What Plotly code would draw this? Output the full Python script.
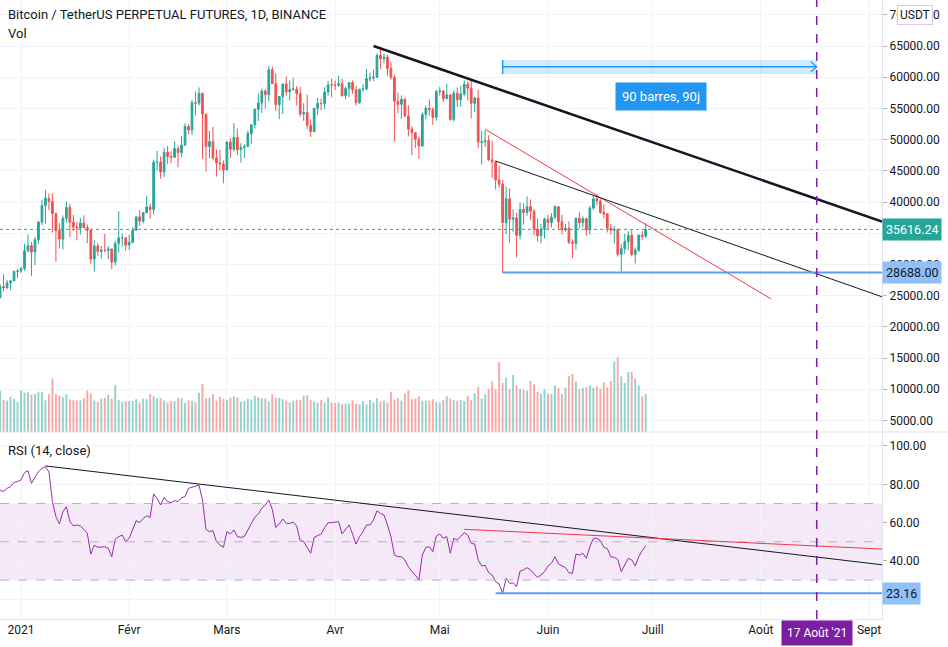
import pandas as pd
import plotly.graph_objects as go

# ── daily candles, BTCUSDT perp, 26 Dec 2020 .. 29 Jun 2021 ──
FIRST_DAY = "2020-12-26"

opens = [
    24664, 26437, 26238, 27037, 27360, 28875,
    28923, 29331, 32176, 33000, 31989, 33950, 36769, 39432, 40586, 40088, 38150, 35410, 34050, 37371, 39145, 36737,
    35995, 35825, 36623, 35901, 35468, 30851, 32950, 32078, 32259, 32254, 32464, 30363, 33368, 34246, 34262,
    33092, 33518, 35472, 37620, 36936, 38289, 39181, 38795, 46374, 46420, 44807, 47968, 47298, 47156, 48580, 47911,
    49134, 52118, 51552, 55906, 55841, 57413, 54064, 48892, 49677, 47063, 46278, 46103,
    45134, 49595, 48436, 50349, 48374, 48746, 48882, 50959, 52375, 54874, 55851, 57773, 57222, 61188, 58976, 55605,
    56900, 58912, 57641, 58030, 58100, 57351, 54083, 54342, 52303, 51293, 55025, 55817, 55777, 57635, 58746,
    58740, 58721, 58951, 57059, 58202, 59129, 57990, 55953, 58077, 58142, 59770, 59860, 59992, 63505, 62963, 63216,
    61380, 60001, 56150, 55663, 56425, 53787, 51695, 51110, 50047, 49005, 54021, 55033, 54825, 53555,
    57697, 57797, 56578, 57169, 53205, 57436, 56394, 57315, 58866, 58240, 55816, 56670, 49537, 49671, 49845, 46762,
    46427, 43538, 42850, 36671, 40526, 37263, 37458, 34655, 38796, 38325, 39241, 38529, 35661, 34605, 35641,
    37254, 36694, 37568, 39246, 36829, 35517, 35796, 33556, 33380, 37388, 36677, 37331, 35546, 39020, 40516, 40143,
    38349, 38100, 35820, 35484, 35600, 31614, 32510, 33676, 34663, 31576, 32283, 34702, 34494,
]
highs = [
    26867, 28422, 27500, 27410, 28996, 29300,
    29600, 33300, 34778, 33600, 34360, 36939, 40365, 41950, 41380, 41350, 38264, 36628, 37850, 40100, 39747, 37950,
    36852, 37469, 37850, 36415, 35600, 33826, 33456, 32945, 34875, 32921, 32557, 33783, 38531, 34933, 34342,
    34717, 35984, 37662, 38708, 38310, 40955, 39700, 46794, 48200, 47310, 48678, 48985, 48150, 49707, 49010, 50620,
    52618, 52530, 56368, 57700, 58352, 57533, 54183, 51374, 52041, 48390, 48394, 46638,
    49790, 50200, 52640, 51773, 49448, 49200, 51450, 52402, 54895, 57387, 58150, 58081, 61844, 61719, 60633, 56938,
    58982, 60100, 59468, 59880, 58589, 58430, 55830, 57200, 53238, 55073, 56700, 56559, 58400, 59368, 59800,
    59490, 60200, 59791, 58494, 59249, 59470, 58650, 58153, 58894, 61300, 60700, 61200, 63800, 64854, 63821, 63594,
    62506, 60415, 57526, 57076, 56757, 55521, 52131, 51166, 50500, 54357, 55460, 56428, 55196, 57963,
    58458, 57911, 58981, 57200, 57963, 58360, 58650, 59500, 59300, 59592, 56862, 58000, 51367, 51483, 50700, 49800,
    46643, 45800, 43546, 42451, 42200, 38856, 38270, 39920, 39791, 40900, 40411, 38877, 37338, 36488, 37499,
    37894, 38225, 39476, 39289, 37925, 36480, 36900, 34068, 37534, 38400, 37680, 37463, 39380, 41064, 41330, 40527,
    39559, 38200, 36457, 36137, 35750, 33298, 34881, 35298, 35500, 32730, 34749, 35298, 36600,
]
lows = [
    24500, 25700, 26101, 25880, 27320, 27850,
    28624, 28946, 31963, 28130, 29900, 33288, 36300, 36500, 38720, 35111, 30420, 32531, 32380, 36701, 34408, 35357,
    33850, 34800, 35844, 33400, 30071, 28850, 31390, 30900, 31900, 30837, 29241, 29842, 31915, 32825, 32171,
    32297, 33419, 35362, 36161, 36570, 38215, 37351, 37988, 45020, 43727, 43994, 46125, 46202, 47014, 45570, 47226,
    48947, 50901, 50710, 53863, 55477, 46930, 44892, 47003, 46674, 44108, 45000, 43000,
    45115, 47047, 48100, 47500, 46300, 47070, 48882, 49274, 51789, 53005, 54269, 54962, 56078, 59018, 54600, 53271,
    54123, 57023, 56270, 57820, 55450, 53650, 53000, 51700, 50427, 51226, 53950, 54691, 54900, 57006, 56769,
    57935, 58434, 56873, 56478, 56826, 57333, 55473, 55700, 57654, 57876, 59266, 59369, 59869, 61301, 62208, 60222,
    59580, 49700, 54221, 53329, 53608, 50500, 47500, 48657, 46930, 48800, 53222, 53813, 52330, 53013,
    57052, 56035, 56435, 53046, 52900, 55200, 55241, 56900, 56235, 53400, 54370, 48600, 46000, 48800, 46555, 43825,
    42001, 42250, 28688, 34850, 33488, 35200, 31111, 34031, 36419, 37800, 37134, 34684, 33632, 33379, 34153,
    35666, 35920, 37170, 35555, 34800, 35258, 33300, 31000, 32397, 35784, 35937, 34600, 34757, 38730, 39506, 38116,
    37365, 35129, 34803, 33336, 31252, 28805, 31683, 32286, 31275, 30151, 32000, 33862, 34225,
]
closes = [
    26437, 26238, 27037, 27376, 28875, 28923,
    29331, 32178, 33000, 31988, 33950, 36769, 39432, 40582, 40088, 38150, 35404, 34051, 37371, 39144, 36742, 35994,
    35828, 36631, 35891, 35468, 30850, 32945, 32078, 32259, 32254, 32467, 30366, 33364, 34252, 34262, 33092,
    33526, 35466, 37619, 36936, 38290, 39186, 38795, 46374, 46420, 44807, 47969, 47287, 47153, 48577, 47911, 49133,
    52119, 51552, 55906, 55841, 57408, 54087, 48891, 49676, 47073, 46276, 46106, 45135,
    49587, 48440, 50349, 48374, 48751, 48882, 50971, 52375, 54884, 55851, 57773, 57221, 61188, 58968, 55605, 56900,
    58912, 57648, 58030, 58102, 57351, 54083, 54340, 52303, 51293, 55025, 55817, 55777, 57635, 58746, 58740,
    58720, 58950, 57059, 58202, 59129, 57991, 55953, 58077, 58142, 59769, 59860, 59992, 63503, 62963, 63216, 61380,
    60001, 56150, 55633, 56425, 53787, 51690, 51125, 50047, 49004, 54021, 55033, 54824, 53555, 57697,
    57797, 56578, 57169, 53200, 57436, 56393, 57314, 58862, 58240, 55816, 56670, 49631, 49670, 49841, 46762, 46431,
    43538, 42849, 36691, 40526, 37252, 37449, 34655, 38796, 38324, 39241, 38529, 35663, 34605, 35641, 37254,
    36693, 37568, 39246, 36829, 35513, 35796, 33552, 33380, 37388, 36675, 37331, 35546, 39020, 40516, 40144, 38349,
    38092, 35820, 35483, 35600, 31608, 32509, 33678, 34663, 31584, 32283, 34700, 34494, 35616.24,
]
# volume, thousands of contracts
volumes = [
    172, 133, 130, 146, 138, 124, 172, 163, 165, 155, 157, 167, 167, 131, 157, 222, 157, 151, 144, 157,
    136, 134, 131, 131, 140, 172, 159, 130, 124, 138, 142, 155, 138, 195, 132, 124, 128, 128, 128, 136,
    122, 138, 136, 157, 148, 140, 140, 130, 122, 128, 128, 142, 138, 120, 130, 128, 122, 163, 199, 140,
    142, 157, 130, 146, 138, 133, 142, 148, 144, 124, 128, 138, 134, 150, 144, 140, 138, 126, 157, 142,
    142, 136, 130, 122, 128, 134, 132, 150, 152, 132, 126, 122, 132, 122, 142, 122, 120, 122, 116, 118,
    118, 132, 116, 114, 128, 114, 134, 122, 140, 126, 130, 122, 167, 134, 140, 130, 159, 173, 136, 138,
    148, 130, 130, 130, 136, 124, 122, 132, 148, 138, 132, 130, 132, 128, 150, 132, 161, 187, 138, 157,
    179, 210, 177, 290, 203, 226, 177, 236, 193, 179, 175, 171, 212, 197, 167, 159, 177, 159, 157, 193,
    183, 157, 183, 232, 240, 208, 177, 183, 185, 193, 183, 189, 179, 206, 185, 212, 293, 310, 230, 203,
    248, 248, 222, 193, 148, 157,
]
# RSI(14, close)
rsi = [
    77.0, 76.2, 77.9, 78.8, 81.0, 81.4, 82.3, 86.1, 87.1, 80.5,
    83.6, 86.6, 88.3, 89.2, 86.6, 71.0, 63.1, 59.3, 65.7, 68.3,
    60.5, 58.4, 58.8, 58.2, 56.5, 54.4, 43.6, 48.3, 47.1, 47.1,
    47.4, 46.6, 42.2, 51.3, 52.7, 53.5, 50.1, 51.8, 56.1, 61.0,
    60.0, 62.2, 63.5, 62.8, 75.0, 72.7, 69.2, 73.2, 71.0, 70.4,
    71.5, 71.0, 73.0, 73.6, 77.9, 78.4, 79.1, 79.6, 71.8, 56.5,
    55.3, 55.8, 50.1, 48.3, 47.1, 55.3, 54.1, 56.2, 52.7, 52.3,
    52.7, 55.8, 59.6, 62.8, 64.5, 67.5, 69.2, 71.8, 66.9, 57.5,
    59.3, 61.9, 59.6, 59.6, 60.3, 58.2, 50.6, 50.1, 47.4, 44.0,
    52.3, 53.0, 54.1, 57.5, 60.0, 60.0, 60.2, 60.5, 54.1, 56.5,
    58.8, 54.1, 48.8, 52.7, 55.3, 58.8, 58.8, 61.4, 66.2, 64.8,
    64.0, 58.8, 52.7, 43.1, 42.2, 42.2, 40.5, 37.0, 34.4, 32.6,
    30.0, 43.1, 47.1, 47.4, 44.8, 53.0, 54.1, 51.8, 52.7, 44.0,
    51.8, 50.9, 53.0, 54.8, 53.5, 49.2, 48.8, 40.5, 37.4, 37.7,
    33.9, 32.7, 29.2, 28.0, 23.16, 30.9, 28.3, 28.6, 26.6, 34.7,
    35.3, 36.5, 35.3, 33.5, 31.4, 32.7, 34.4, 37.4, 38.8, 42.2,
    38.4, 37.4, 36.5, 33.9, 33.5, 43.6, 43.1, 44.0, 41.4, 47.4,
    51.8, 51.8, 50.6, 47.1, 46.4, 42.2, 41.9, 40.8, 34.4, 37.9,
    41.4, 40.5, 37.4, 42.2, 45.4, 47.8,
]

month_ticks = ["2021-01-01", "2021-02-01", "2021-03-01", "2021-04-01", "2021-05-01",
               "2021-06-01", "2021-07-01", "2021-08-01", "2021-09-01"]
month_labels = ["2021", "Févr", "Mars", "Avr", "Mai", "Juin", "Juill", "Août", "Sept"]
price_ticks = [5000, 10000, 15000, 20000, 25000, 30000, 35000, 40000, 45000,
               50000, 55000, 60000, 65000, 70000]
rsi_ticks = [20, 40, 60, 80, 100]

last_price = 35616.24
support_price = 28688.00
rsi_low = 23.16

# ── drawings ──
X_LEFT, X_RIGHT = "2020-12-25 23:30", "2021-09-04 17:00"
big_trend = [("2021-04-12", 65000), (X_RIGHT, 36874)]
red_trend = [("2021-05-14", 51650), ("2021-08-04", 24450)]
thin_trend = [("2021-05-17", 46570), (X_RIGHT, 24806)]
rsi_trend = [("2021-01-08", 89.6), (X_RIGHT, 38.0)]
rsi_red = [("2021-05-08", 56.5), (X_RIGHT, 46.2)]
support_start = "2021-05-19"
rsi_support_start = "2021-05-17"
measure = dict(start="2021-05-19", end="2021-08-17", lo=60513, hi=62756, mid=61683,
               label_x="2021-07-03 12:00", label_y=56900, text="90 barres, 90j")
marker_day = "2021-08-17"
marker_text = "17 Août '21"

UP, DOWN = "#26a69a", "#ef5350"
GRID = "#f0f3fa"
TEXT = "#131722"
PANE_SPLIT = 187 / 619

dates = pd.date_range(FIRST_DAY, periods=len(closes), freq="D")
vol_colors = ["rgba(38,166,154,0.5)" if c >= o else "rgba(239,83,80,0.5)"
              for o, c in zip(opens, closes)]

fig = go.Figure()
fig.add_trace(go.Bar(
    x=dates, y=volumes, yaxis="y2", marker_color=vol_colors, marker_line_width=0,
    width=0.55 * 86400000, hoverinfo="skip",
))
fig.add_trace(go.Candlestick(
    x=dates, open=opens, high=highs, low=lows, close=closes,
    increasing=dict(line=dict(color=UP, width=1), fillcolor=UP),
    decreasing=dict(line=dict(color=DOWN, width=1), fillcolor=DOWN),
    whiskerwidth=0, hoverinfo="skip",
))
fig.add_trace(go.Scatter(
    x=dates, y=rsi, yaxis="y3", mode="lines",
    line=dict(color="#9c27b0", width=1), hoverinfo="skip",
))

# RSI band
fig.add_shape(type="rect", xref="x domain", yref="y3", x0=0, x1=1, y0=30, y1=70,
              fillcolor="rgba(156,39,176,0.1)", line_width=0, layer="below")
for lvl in (70, 50, 30):
    fig.add_shape(type="line", xref="x domain", yref="y3", x0=0, x1=1, y0=lvl, y1=lvl,
                  line=dict(color="#b2b5be", width=1, dash="dash"))

# pane separator
fig.add_shape(type="line", xref="paper", yref="paper", x0=0, x1=948 / 882,
              y0=PANE_SPLIT, y1=PANE_SPLIT, line=dict(color="#e0e3eb", width=1))

# last price
fig.add_shape(type="line", xref="x domain", yref="y", x0=0, x1=1, y0=last_price, y1=last_price,
              line=dict(color=UP, width=1, dash="dot"))


def seg(pts, yref, color, width):
    (x0, y0), (x1, y1) = pts
    fig.add_shape(type="line", xref="x", yref=yref, x0=x0, y0=y0, x1=x1, y1=y1,
                  line=dict(color=color, width=width))


seg(big_trend, "y", "#131722", 2.5)
seg(red_trend, "y", "#f23645", 1)
seg(thin_trend, "y", "#131722", 1)
seg(rsi_trend, "y3", "#131722", 1)
seg(rsi_red, "y3", "#f23645", 1)
seg([(support_start, support_price), (X_RIGHT, support_price)], "y", "#5b9cf6", 2)
seg([(rsi_support_start, rsi_low), (X_RIGHT, rsi_low)], "y3", "#5b9cf6", 2)

# date range measure
fig.add_shape(type="rect", xref="x", yref="y", x0=measure["start"], x1=measure["end"],
              y0=measure["lo"], y1=measure["hi"], fillcolor="rgba(33,150,243,0.2)", line_width=0)
seg([(measure["start"], measure["lo"]), (measure["start"], measure["hi"])], "y", "#2196f3", 1.5)
seg([(measure["start"], measure["mid"]), (measure["end"], measure["mid"])], "y", "#2196f3", 1.5)
fig.add_shape(type="path", xref="x", yref="y", xsizemode="pixel", ysizemode="pixel",
              xanchor=measure["end"], yanchor=measure["mid"], path="M -6,5 L 0,0 L -6,-5",
              line=dict(color="#2196f3", width=1.2))
fig.add_annotation(x=measure["label_x"], y=measure["label_y"], xref="x", yref="y",
                   text=measure["text"], showarrow=False, bgcolor="#2196f3", borderpad=6,
                   font=dict(color="white", size=13))

# vertical marker
fig.add_shape(type="line", xref="x", yref="paper", x0=marker_day, x1=marker_day, y0=0, y1=1,
              line=dict(color="#7b1fa2", width=1.5, dash="dash"))
fig.add_annotation(x=marker_day, y=-14 / 619, xref="x", yref="paper", yanchor="middle",
                   text=marker_text, showarrow=False, bgcolor="#7b1fa2", borderpad=5,
                   font=dict(color="white", size=12))

# axis labels
for val, ref, txt, bg, fg in [
    (last_price, "y", f"{last_price:.2f}", UP, "white"),
    (support_price, "y", f"{support_price:.2f}", "#90bff9", TEXT),
    (rsi_low, "y3", f"{rsi_low:.2f}", "#90bff9", TEXT),
]:
    fig.add_annotation(x=1, y=val, xref="paper", yref=ref, xanchor="left", yanchor="middle",
                       text=txt, showarrow=False, bgcolor=bg, borderpad=3,
                       font=dict(color=fg, size=12.5))

# pane titles
for txt, ypx in [("Bitcoin / TetherUS PERPETUAL FUTURES, 1D, BINANCE", 15),
                 ("Vol", 33), ("RSI (14, close)", 450)]:
    fig.add_annotation(x=6 / 882, y=1 - ypx / 619, xref="paper", yref="paper",
                       xanchor="left", yanchor="middle", text=txt, showarrow=False,
                       font=dict(size=13, color=TEXT))
fig.add_annotation(x=915 / 882, y=1 - 15.5 / 619, xref="paper", yref="paper",
                   xanchor="center", yanchor="middle",
                   text="USDT", showarrow=False, bgcolor="white", bordercolor="#d8c8ec",
                   borderwidth=1, borderpad=2, font=dict(size=12, color=TEXT))

fig.update_layout(
    width=948, height=647,
    margin=dict(l=0, r=66, t=0, b=28, autoexpand=False),
    paper_bgcolor="white", plot_bgcolor="white",
    showlegend=False, barmode="overlay",
    font=dict(family="Roboto, sans-serif", size=12, color=TEXT),
    xaxis=dict(type="date", range=[X_LEFT, X_RIGHT], anchor="y3", automargin=False,
               tickvals=month_ticks, ticktext=month_labels,
               showgrid=True, gridcolor=GRID, showline=True, linecolor="#e0e3eb",
               ticks="", rangeslider=dict(visible=False)),
    yaxis=dict(domain=[PANE_SPLIT, 1], range=[3141, 72372], side="right", anchor="x",
               automargin=False, tickvals=price_ticks, tickformat=".2f", gridcolor=GRID,
               zeroline=False, ticks="outside", ticklen=4, tickcolor="#b2b5be",
               showline=True, linecolor="#e0e3eb"),
    yaxis2=dict(overlaying="y", range=[0, 1790], visible=False),
    yaxis3=dict(domain=[0, PANE_SPLIT], range=[9.7, 107.3], side="right", anchor="x",
                automargin=False, tickvals=rsi_ticks, tickformat=".2f", gridcolor=GRID,
                zeroline=False, ticks="outside", ticklen=4, tickcolor="#b2b5be",
                showline=True, linecolor="#e0e3eb"),
)

fig.write_html("out.html", config={"displayModeBar": False},
               post_script="document.body.style.margin='0px';")
